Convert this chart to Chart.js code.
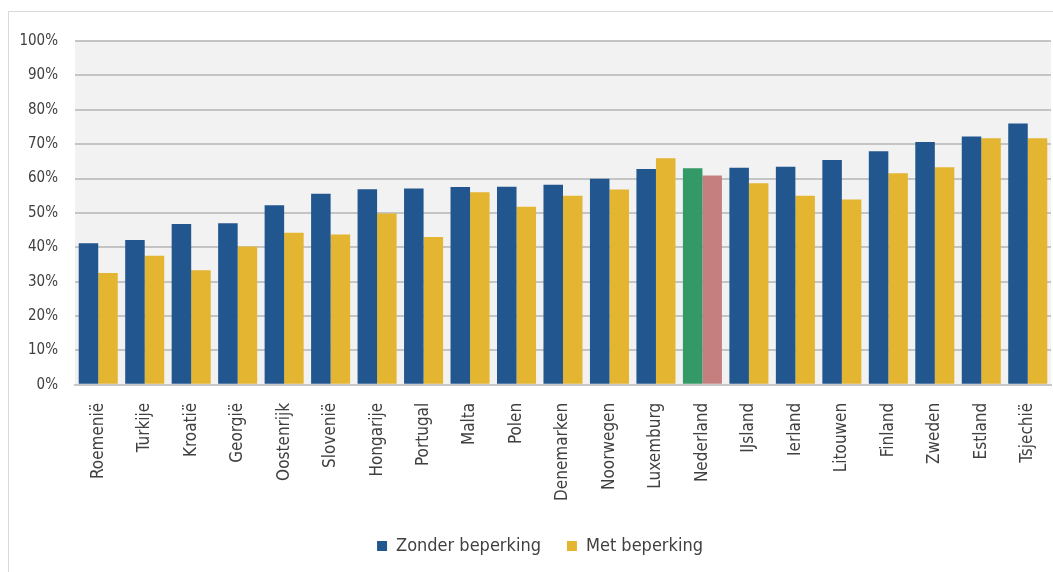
<!DOCTYPE html>
<html>
<head>
<meta charset="utf-8">
<script src="https://cdn.jsdelivr.net/npm/chart.js@4"></script>
<style>
  body { margin: 0; background: #fff; overflow: hidden; }
  #frame {
    position: absolute; left: 8px; top: 11px;
    width: 1080px; height: 600px;
    border: 1px solid #d9d9d9;
    background: #fff;
  }
  #wrap { position: absolute; left: 0; top: 0; width: 1043px; height: 561px; }
</style>
</head>
<body>
<div id="frame"><div id="wrap"><canvas id="chart"></canvas></div></div>
<script>
// ============================================================
//  Data
// ============================================================
const countries = ['Roemenië', 'Turkije', 'Kroatië', 'Georgië', 'Oostenrijk', 'Slovenië',
    'Hongarije', 'Portugal', 'Malta', 'Polen', 'Denemarken', 'Noorwegen', 'Luxemburg',
    'Nederland', 'IJsland', 'Ierland', 'Litouwen', 'Finland', 'Zweden', 'Estland', 'Tsjechië'];

const zonderBeperking = [41.2, 42.1, 46.8, 47.0, 52.2, 55.6, 56.9, 57.1, 57.5, 57.6, 58.2,
    59.9, 62.8, 63.0, 63.1, 63.4, 65.4, 67.9, 70.6, 72.2, 76.0];
const metBeperking = [32.5, 37.5, 33.3, 40.2, 44.2, 43.7, 49.8, 43.0, 56.0, 51.8, 55.0,
    56.8, 65.9, 60.9, 58.6, 55.0, 53.9, 61.5, 63.3, 71.7, 71.7];

const yTicks = [0, 10, 20, 30, 40, 50, 60, 70, 80, 90, 100];

const BLUE = '#21568f';
const YELLOW = '#e3b530';
const HIGHLIGHT = 'Nederland';
const HL_BLUE = '#339966';
const HL_YELLOW = '#c67f7f';

const blueColors = countries.map(c => c === HIGHLIGHT ? HL_BLUE : BLUE);
const yellowColors = countries.map(c => c === HIGHLIGHT ? HL_YELLOW : YELLOW);

// plot background
const plotBg = {
    id: 'plotBg',
    beforeDraw(chart) {
        const { ctx, chartArea: a } = chart;
        ctx.save();
        ctx.fillStyle = '#f2f2f2';
        ctx.fillRect(a.left, a.top, a.right - a.left, a.bottom - a.top);
        ctx.restore();
    }
};

// legend in the original sits a bit right of the canvas centre
const legendShift = {
    id: 'legendShift',
    afterLayout(chart) {
        if (!chart.legend) return;
        chart.legend.left += 10;
        chart.legend.right += 10;
    }
};

const FONT = "'DejaVu Sans Condensed', 'DejaVu Sans', sans-serif";

new Chart(document.getElementById('chart'), {
    type: 'bar',
    data: {
        labels: countries,
        datasets: [
            {
                label: 'Zonder beperking',
                data: zonderBeperking,
                backgroundColor: blueColors,
                borderWidth: 0,
            },
            {
                label: 'Met beperking',
                data: metBeperking,
                backgroundColor: yellowColors,
                borderWidth: 0,
            }
        ]
    },
    options: {
        responsive: true,
        maintainAspectRatio: false,
        animation: false,
        layout: { padding: { top: 29, right: 1, left: 0, bottom: 8 } },
        datasets: { bar: { categoryPercentage: 0.84, barPercentage: 1.0 } },
        plugins: {
            tooltip: { enabled: false },
            legend: {
                position: 'bottom',
                labels: {
                    boxWidth: 10,
                    boxHeight: 10,
                    padding: 26,
                    color: '#404040',
                    font: { size: 18, family: FONT },
                    generateLabels: (chart) => [
                        { text: 'Zonder beperking', fillStyle: BLUE, strokeStyle: BLUE, lineWidth: 0, datasetIndex: 0, fontColor: '#404040' },
                        { text: 'Met beperking', fillStyle: YELLOW, strokeStyle: YELLOW, lineWidth: 0, datasetIndex: 1, fontColor: '#404040' },
                    ]
                }
            }
        },
        scales: {
            x: {
                grid: { display: false },
                border: { display: true, color: '#c8c8c8', width: 2 },
                afterFit: (scale) => { scale.paddingLeft = 0; scale.paddingRight = 0; },
                ticks: {
                    minRotation: 90,
                    maxRotation: 90,
                    autoSkip: false,
                    padding: 10,
                    color: '#404040',
                    font: { size: 17, family: FONT }
                }
            },
            y: {
                min: 0,
                max: 100,
                afterBuildTicks: (scale) => { scale.ticks = yTicks.map(v => ({ value: v })); },
                afterFit: (scale) => { scale.width = 66; },
                grid: { color: '#c4c4c4', lineWidth: 2, drawTicks: false },
                border: { display: false },
                ticks: {
                    padding: 17,
                    color: '#404040',
                    font: { size: 15, family: FONT },
                    callback: (v) => v + '%'
                }
            }
        }
    },
    plugins: [plotBg, legendShift]
});
</script>
</body>
</html>
